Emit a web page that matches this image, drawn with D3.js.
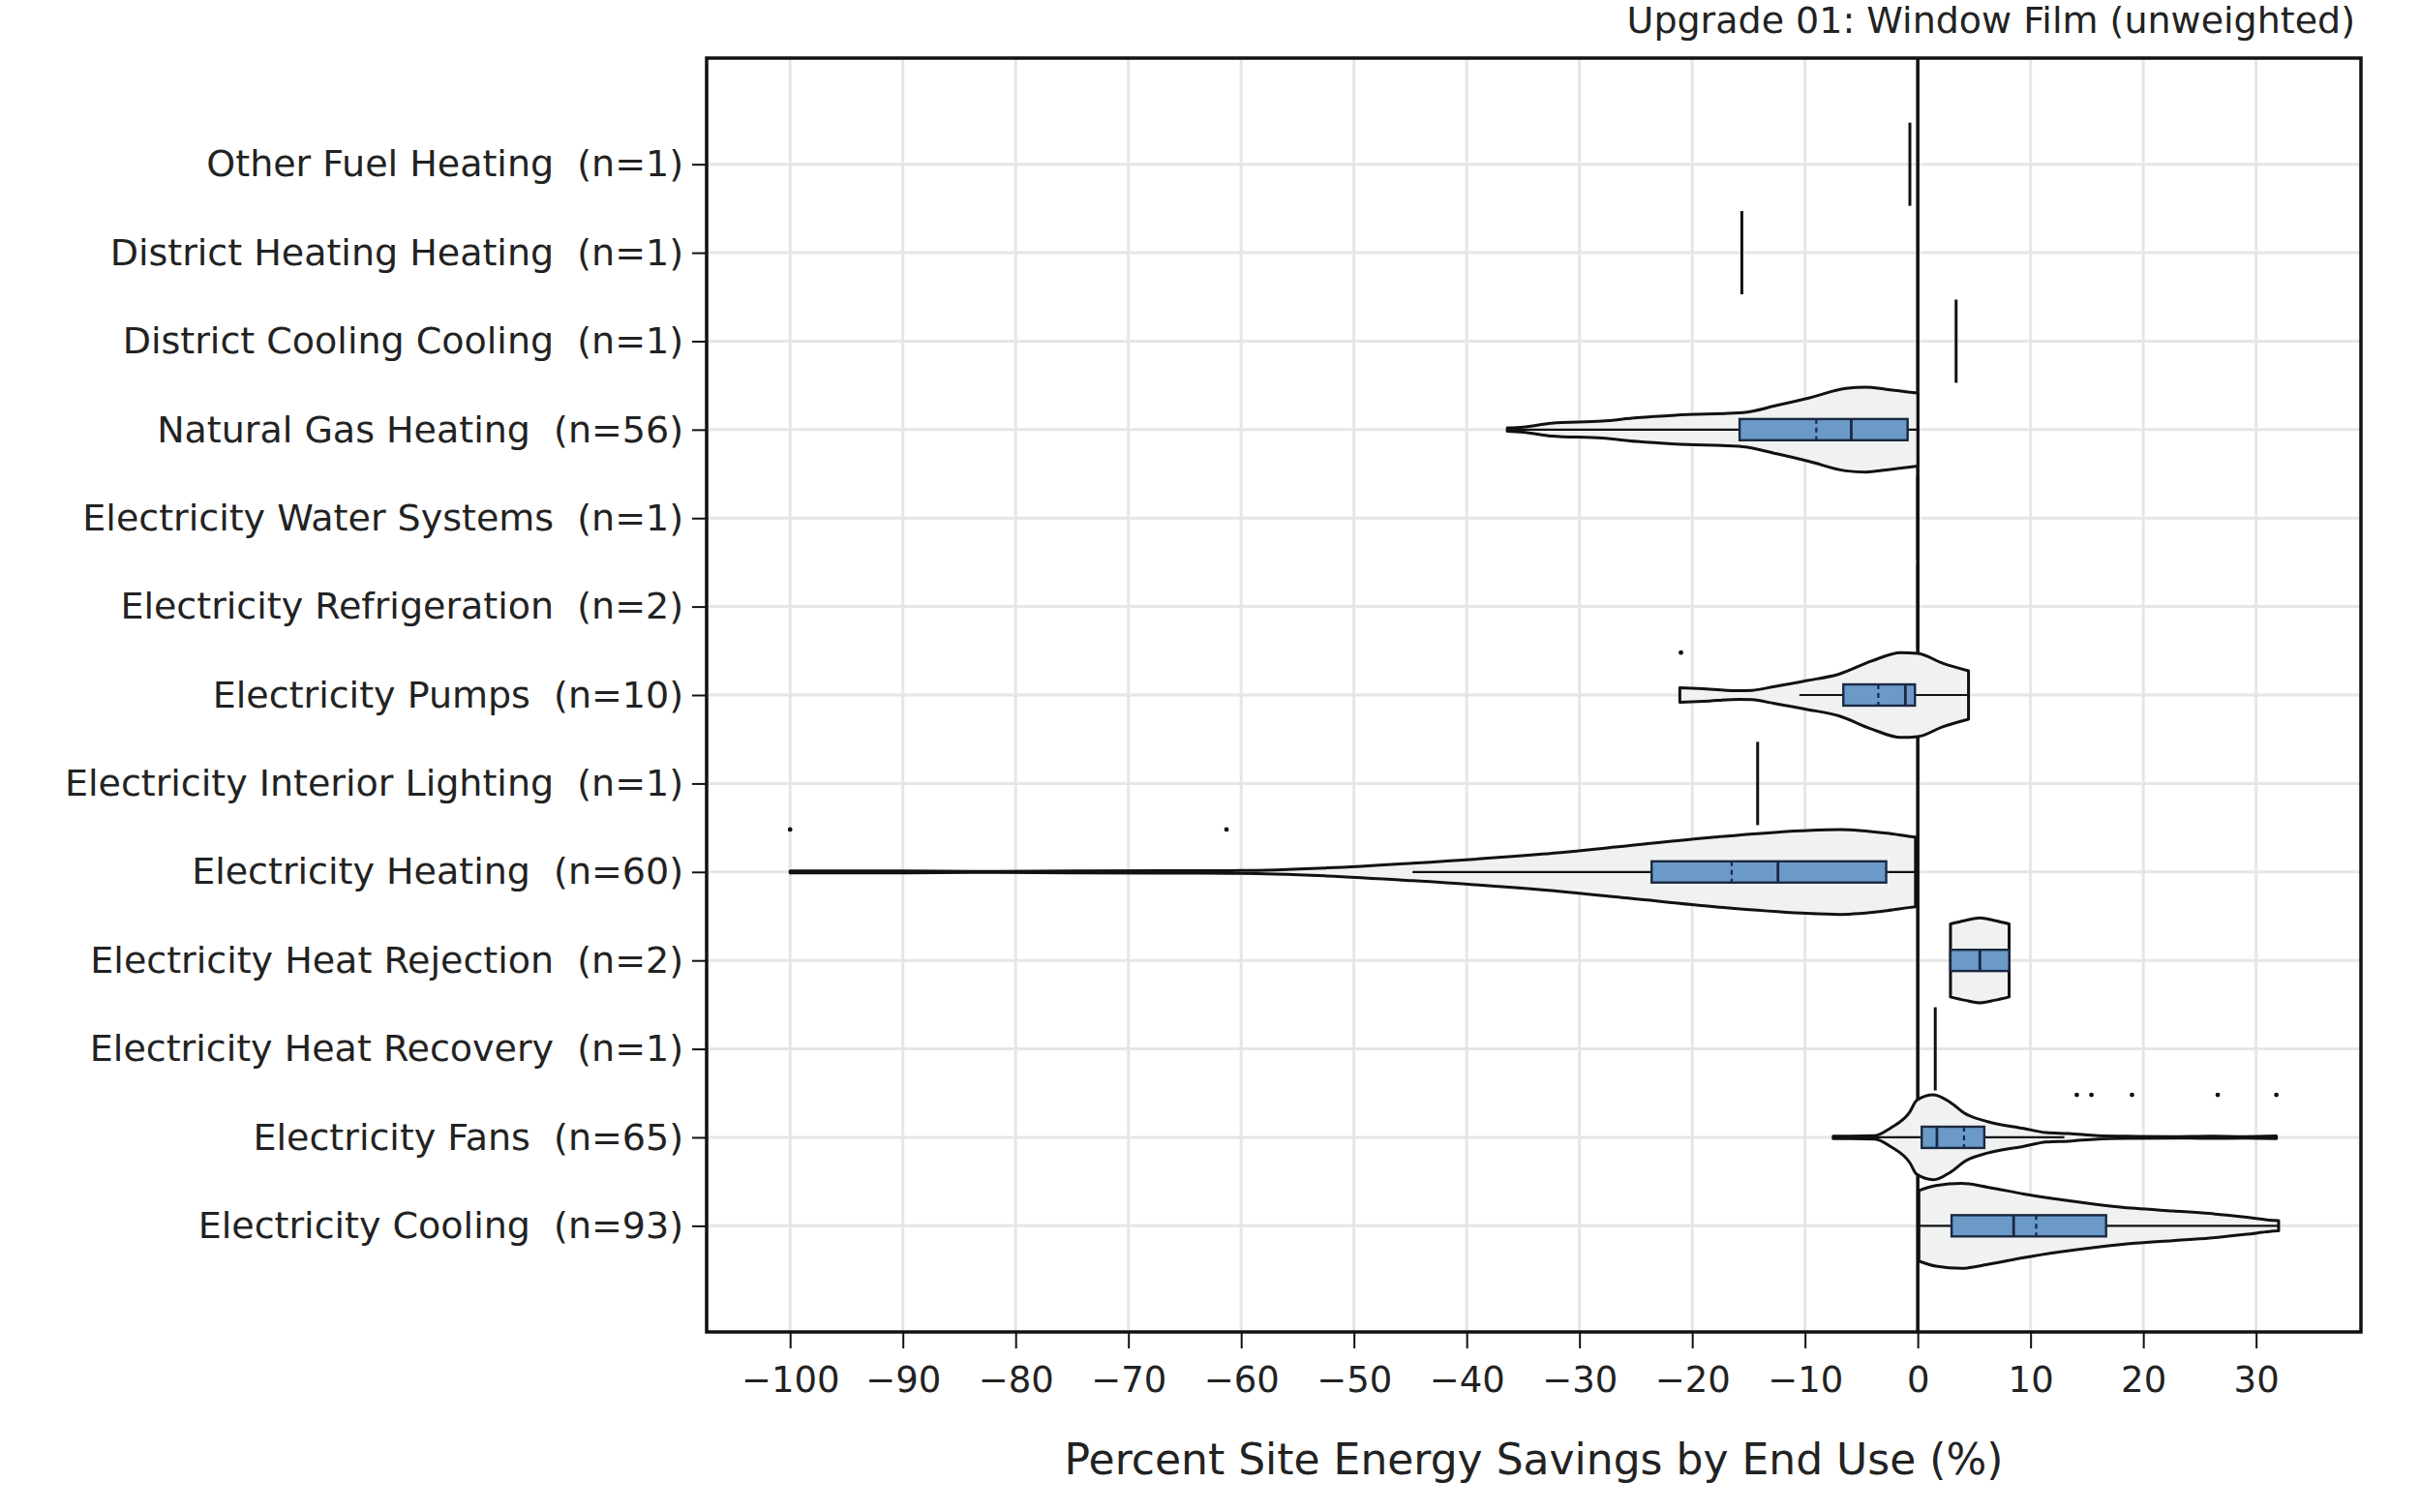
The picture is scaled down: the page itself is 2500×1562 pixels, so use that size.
<!DOCTYPE html>
<html><head><meta charset="utf-8">
<script src="https://cdn.jsdelivr.net/npm/d3@7"></script>
<style>
body{margin:0;background:#fff}
svg text{font-family:"DejaVu Sans",Verdana,sans-serif;fill:#222}
</style>
</head><body>
<svg id="chart" width="2500" height="1562"></svg>
<script>
// ---------------- data ----------------
const categories = [
  "Other Fuel Heating", "District Heating Heating", "District Cooling Cooling",
  "Natural Gas Heating", "Electricity Water Systems", "Electricity Refrigeration",
  "Electricity Pumps", "Electricity Interior Lighting", "Electricity Heating",
  "Electricity Heat Rejection", "Electricity Heat Recovery", "Electricity Fans",
  "Electricity Cooling"
];
const counts = [1, 1, 1, 56, 1, 2, 10, 1, 60, 2, 1, 65, 93];
const xTickValues = [-100, -90, -80, -70, -60, -50, -40, -30, -20, -10, 0, 10, 20, 30];

// single-value (degenerate) violins
const lineValues = [-0.7, -15.6, 3.4, null, 0, 0, null, -14.2, null, null, 1.55, null, null];

// box statistics per category (null = no box)
const boxQ1     = [null, null, null, -15.8, null, null, -6.6, null, -23.6, 2.9, null, 0.35, 3.0];
const boxMedian = [null, null, null,  -5.9, null, null, -1.1, null, -12.4, 5.5, null, 1.7,  8.5];
const boxQ3     = [null, null, null,  -0.9, null, null, -0.25, null, -2.8, 8.1, null, 5.9, 16.7];
const boxMean   = [null, null, null,  -9.0, null, null, -3.5, null, -16.5, 5.5, null, 4.1, 10.5];
const whiskerLo = [null, null, null, -36.4, null, null, -10.5, null, -44.8, 2.9, null, -7.5, 0.1];
const whiskerHi = [null, null, null,   0.0, null, null,  4.5, null,  -0.2, 8.1, null, 13.0, 32.0];

// outliers
const pumpsOutliers   = [-21.0];
const heatingOutliers = [-100, -61.3];
const fansOutliers    = [14.1, 15.4, 19.0, 26.6, 31.8];

// violin outlines: value (%) and relative density (% of max width)
const naturalGasX = [-36.4, -35, -32.5, -28, -24.9, -21.5, -15.5, -12.5, -9.6, -6.4, -4.6, -2.8, 0];
const naturalGasD = [4, 6, 15, 20, 28, 34, 40, 57, 75, 97, 100, 95, 86];
const pumpsX = [-21.1, -19.0, -15.8, -14.7, -12.7, -9.8, -7.0, -4.1, -1.5, 0, 2.2, 4.5];
const pumpsD = [17, 15, 10, 11, 20, 34, 49, 80, 100, 98, 75, 57];
const heatingX = [-100, -90, -83, -75, -65, -60, -52.4, -44.8, -33.3, -25.7, -18, -10.3, -6.9, -2.7, -0.8, -0.2];
const heatingD = [2.4, 2.2, 1.2, 2.2, 2.8, 3.2, 9.5, 20.7, 42, 61.5, 82, 97, 100, 91, 84, 82];
const heatRejectionX = [2.9, 4.2, 5.5, 6.8, 8.1];
const heatRejectionD = [86, 94, 100, 94, 86];
const fansX = [-7.5, -6.0, -3.8, -2.4, -0.7, -0.1, 1.4, 2.9, 4.2, 6.2, 9.4, 11.4, 13.4, 16.0, 19.3, 22.6, 25.9, 29, 31.8];
const fansD = [3, 3, 4, 22, 60, 87, 100, 82, 56, 37, 21, 11, 9, 4, 2.4, 1.6, 2.6, 1.8, 3.2];
const coolingX = [0.1, 1.6, 3.9, 6.2, 9.4, 12.8, 16.0, 19.3, 22.6, 25.9, 29.2, 31.2, 32.0];
const coolingD = [83, 95, 100, 91, 75, 61, 50, 41, 35, 29, 20, 13.5, 12];

const titleText = "Upgrade 01: Window Film (unweighted)";
const xTitle = "Percent Site Energy Savings by End Use (%)";

// ---------------- layout ----------------
const svg = d3.select("#chart");
const L = 730, R = 2439, T = 60, B = 1376;

const x = d3.scaleLinear().domain([-107.4, 39.3]).range([L, R]);
const y = d3.scalePoint().domain(categories).range([T, B]).padding(1.2);
const step = y.step();
const wScale = d3.scaleLinear().domain([0, 100]).range([0, 0.48 * step]);
const boxHalf = 0.12 * step;

svg.append("rect").attr("width", 2500).attr("height", 1562).attr("fill", "#fff");

// grid
const grid = svg.append("g");
grid.selectAll("line.v").data(xTickValues).join("line")
  .attr("x1", d => x(d)).attr("x2", d => x(d)).attr("y1", T).attr("y2", B)
  .attr("stroke", "#e6e6e6").attr("stroke-width", 3);
grid.selectAll("line.h").data(categories).join("line")
  .attr("x1", L).attr("x2", R).attr("y1", d => y(d)).attr("y2", d => y(d))
  .attr("stroke", "#e6e6e6").attr("stroke-width", 3);

// zero line
svg.append("line").attr("x1", x(0)).attr("x2", x(0)).attr("y1", T).attr("y2", B)
  .attr("stroke", "#111").attr("stroke-width", 3.5);

// violins
const violins = [
  {row: 3, xs: naturalGasX, ds: naturalGasD},
  {row: 6, xs: pumpsX, ds: pumpsD},
  {row: 8, xs: heatingX, ds: heatingD},
  {row: 9, xs: heatRejectionX, ds: heatRejectionD},
  {row: 11, xs: fansX, ds: fansD},
  {row: 12, xs: coolingX, ds: coolingD}
];
const vg = svg.append("g");
violins.forEach(v => {
  const yc = y(categories[v.row]);
  const pts = v.xs.map((xv, i) => [xv, v.ds[i]]);
  const area = d3.area()
    .x(d => x(d[0]))
    .y0(d => yc - wScale(d[1]))
    .y1(d => yc + wScale(d[1]))
    .curve(d3.curveMonotoneX);
  vg.append("path").attr("d", area(pts))
    .attr("fill", "#f0f1f1").attr("stroke", "#111").attr("stroke-width", 3)
    .attr("stroke-linejoin", "round");
});

// single value lines
categories.forEach((c, i) => {
  if (lineValues[i] === null) return;
  const yc = y(c);
  vg.append("line").attr("x1", x(lineValues[i])).attr("x2", x(lineValues[i]))
    .attr("y1", yc - wScale(98)).attr("y2", yc + wScale(98))
    .attr("stroke", "#111").attr("stroke-width", 3);
});

// boxes
categories.forEach((c, i) => {
  if (boxQ1[i] === null) return;
  const yc = y(c);
  vg.append("line").attr("x1", x(whiskerLo[i])).attr("x2", x(whiskerHi[i]))
    .attr("y1", yc).attr("y2", yc).attr("stroke", "#111").attr("stroke-width", 2.2);
  vg.append("rect").attr("x", x(boxQ1[i])).attr("width", x(boxQ3[i]) - x(boxQ1[i]))
    .attr("y", yc - boxHalf).attr("height", 2 * boxHalf)
    .attr("fill", "#6b9ac9").attr("stroke", "#1b2840").attr("stroke-width", 2.4);
  vg.append("line").attr("x1", x(boxMean[i])).attr("x2", x(boxMean[i]))
    .attr("y1", yc - boxHalf).attr("y2", yc + boxHalf)
    .attr("stroke", "#1b2840").attr("stroke-width", 2.2).attr("stroke-dasharray", "5,4");
  vg.append("line").attr("x1", x(boxMedian[i])).attr("x2", x(boxMedian[i]))
    .attr("y1", yc - boxHalf).attr("y2", yc + boxHalf)
    .attr("stroke", "#1b2840").attr("stroke-width", 2.8);
});

// outliers
const outlierSets = [
  {row: 6, vals: pumpsOutliers},
  {row: 8, vals: heatingOutliers},
  {row: 11, vals: fansOutliers}
];
outlierSets.forEach(o => {
  const yc = y(categories[o.row]) - 0.48 * step;
  vg.selectAll(null).data(o.vals).join("circle")
    .attr("cx", d => x(d)).attr("cy", yc).attr("r", 2.4).attr("fill", "#111");
});

// frame
svg.append("rect").attr("x", L).attr("y", T).attr("width", R - L).attr("height", B - T)
  .attr("fill", "none").attr("stroke", "#111").attr("stroke-width", 3.5);

// axes
const xAxis = d3.axisBottom(x).tickValues(xTickValues).tickSize(17).tickPadding(19);
const gx = svg.append("g").attr("transform", `translate(0,${B})`).call(xAxis);
gx.select(".domain").remove();
gx.selectAll(".tick line").attr("stroke", "#111").attr("stroke-width", 2);
gx.selectAll(".tick text").attr("font-size", 37).attr("font-family", "DejaVu Sans");

const yAxis = d3.axisLeft(y).tickSize(15).tickPadding(9)
  .tickFormat((d, i) => `${d}  (n=${counts[i]})`);
const gy = svg.append("g").attr("transform", `translate(${L},0)`).call(yAxis);
gy.select(".domain").remove();
gy.selectAll(".tick line").attr("stroke", "#111").attr("stroke-width", 2);
gy.selectAll(".tick text").attr("font-size", 38).attr("font-family", "DejaVu Sans")
  .attr("xml:space", "preserve").style("white-space", "pre");

// titles
svg.append("text").attr("x", 2433).attr("y", 34).attr("text-anchor", "end")
  .attr("font-size", 38).text(titleText);
svg.append("text").attr("x", (L + R) / 2).attr("y", 1523).attr("text-anchor", "middle")
  .attr("font-size", 44).text(xTitle);
</script>
</body></html>
